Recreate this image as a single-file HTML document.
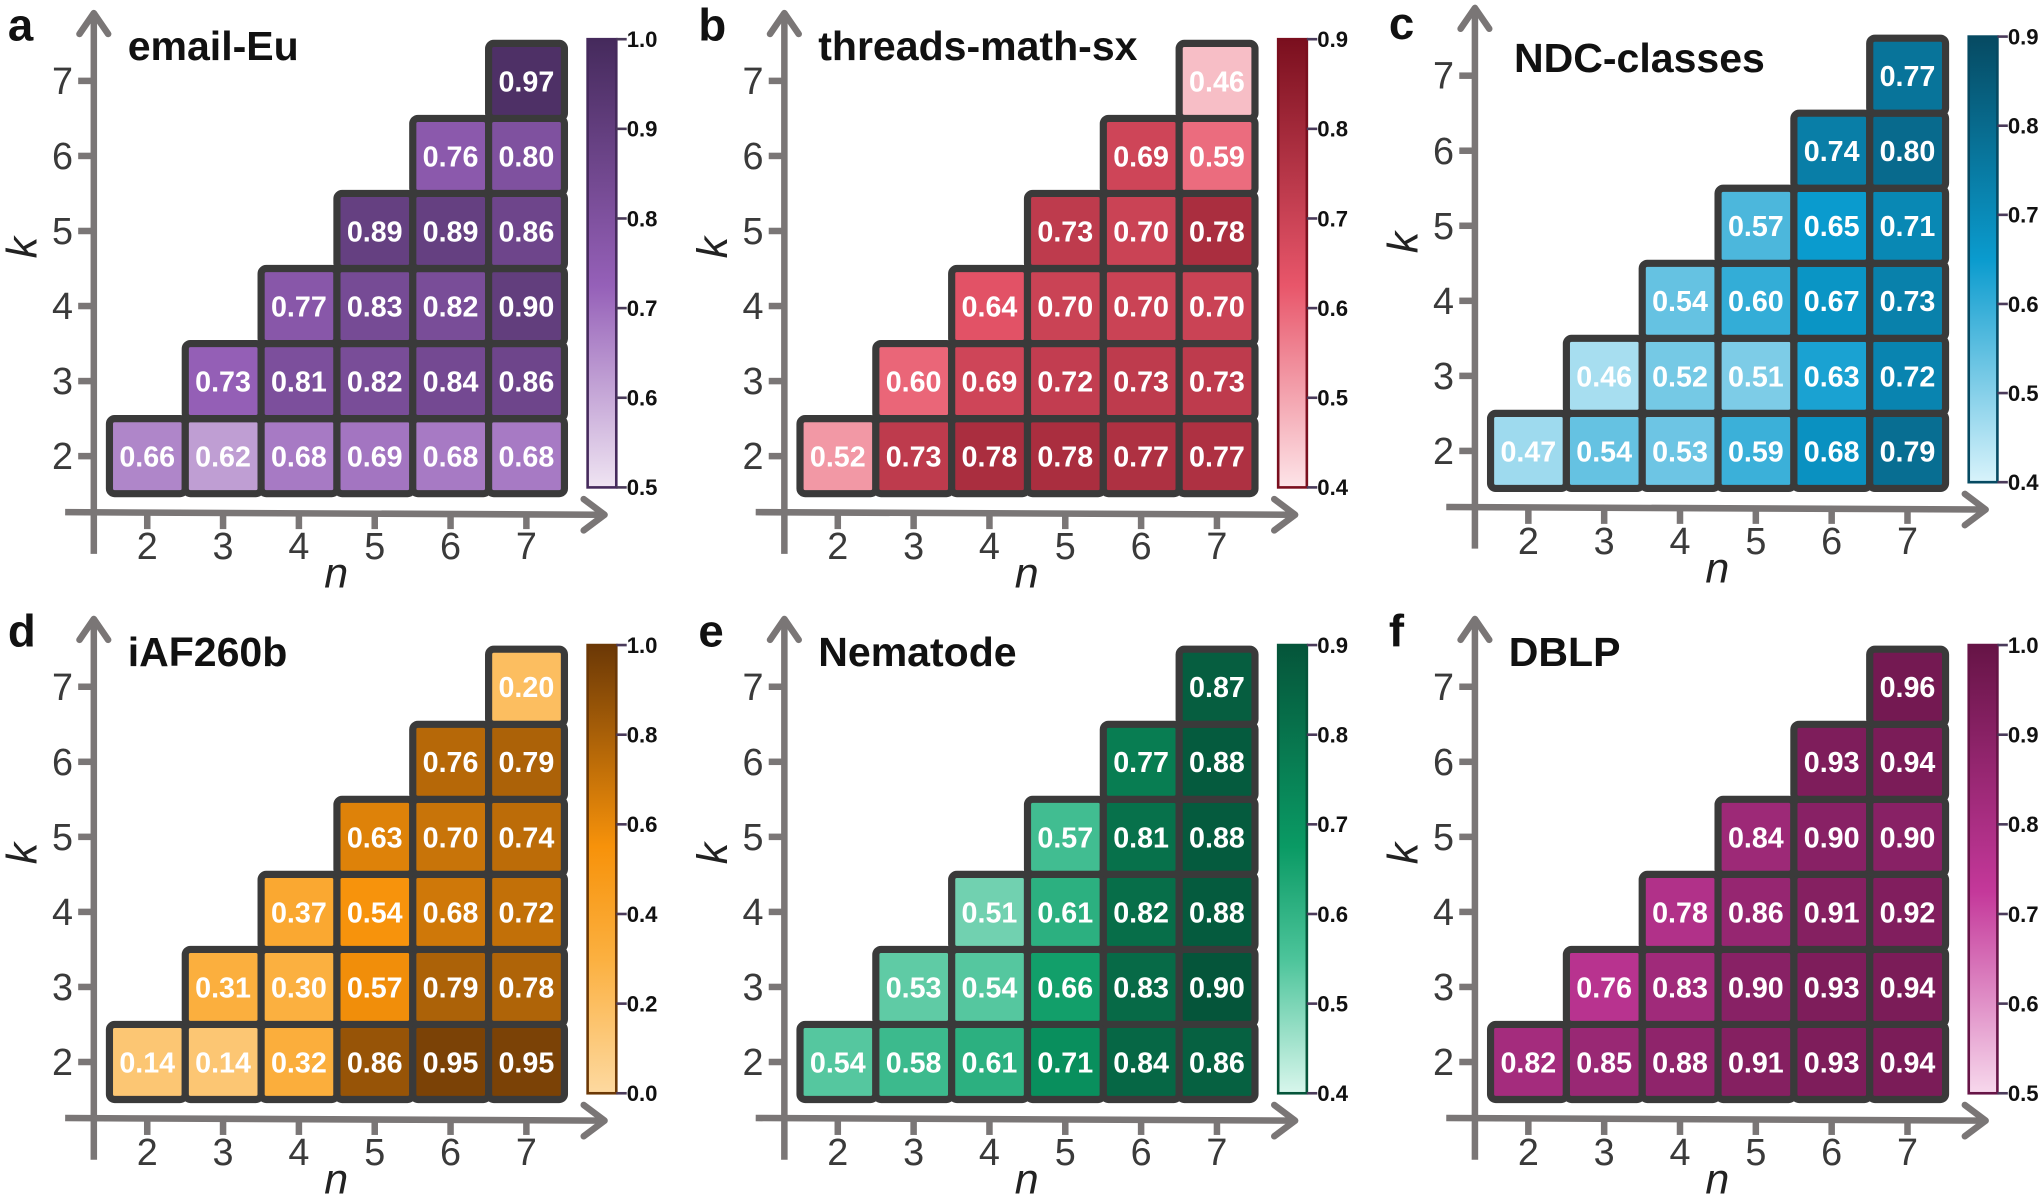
<!DOCTYPE html>
<html><head><meta charset="utf-8"><style>html,body{margin:0;padding:0;background:#fff}svg{display:block}</style></head>
<body>
<svg id="s" width="2043" height="1195" viewBox="0 0 1568 917" xmlns="http://www.w3.org/2000/svg" font-family="Liberation Sans, Arial, sans-serif"></svg>
<script>
const S=document.getElementById('s');
function hex(h){return [parseInt(h.slice(1,3),16),parseInt(h.slice(3,5),16),parseInt(h.slice(5,7),16)];}
function interp(stops,t){t=Math.max(0,Math.min(1,t));for(let i=0;i<stops.length-1;i++){const a=stops[i],b=stops[i+1];if(t<=b[0]){const u=(t-a[0])/(b[0]-a[0]);const ca=hex(a[1]),cb=hex(b[1]);return 'rgb('+ca.map((v,j)=>Math.round(v+(cb[j]-v)*u)).join(',')+')';}}return stops[stops.length-1][1];}
const panels=[
{L:'a',T:'email-Eu',ox:0,oy:0,min:.5,max:1,ticks:['1.0','0.9','0.8','0.7','0.6','0.5'],
 c:[[0,'#efe4f2'],[0.45,'#9560b8'],[1,'#452a5c']],
 v:[[.66,.62,.68,.69,.68,.68],[.73,.81,.82,.84,.86],[.77,.83,.82,.90],[.89,.89,.86],[.76,.80],[.97]]},
{L:'b',T:'threads-math-sx',ox:530,oy:0,min:.4,max:.9,ticks:['0.9','0.8','0.7','0.6','0.5','0.4'],
 c:[[0,'#fde4e8'],[0.45,'#e8566a'],[1,'#7a0f1e']],
 v:[[.52,.73,.78,.78,.77,.77],[.60,.69,.72,.73,.73],[.64,.70,.70,.70],[.73,.70,.78],[.69,.59],[.46]]},
{L:'c',T:'NDC-classes',ox:1060,oy:-4,min:.4,max:.9,ticks:['0.9','0.8','0.7','0.6','0.5','0.4'],
 c:[[0,'#d8f3fb'],[0.5,'#0a9bce'],[1,'#064a62']],
 v:[[.47,.54,.53,.59,.68,.79],[.46,.52,.51,.63,.72],[.54,.60,.67,.73],[.57,.65,.71],[.74,.80],[.77]]},
{L:'d',T:'iAF260b',ox:0,oy:465,min:0,max:1,ticks:['1.0','0.8','0.6','0.4','0.2','0.0'],
 c:[[0,'#fdd9a0'],[0.3,'#fbb040'],[0.55,'#f7920a'],[1,'#6b3806']],
 v:[[.14,.14,.32,.86,.95,.95],[.31,.30,.57,.79,.78],[.37,.54,.68,.72],[.63,.70,.74],[.76,.79],[.20]]},
{L:'e',T:'Nematode',ox:530,oy:465,min:.4,max:.9,ticks:['0.9','0.8','0.7','0.6','0.5','0.4'],
 c:[[0,'#d8f6ec'],[0.3,'#4cc49a'],[0.55,'#0a9a64'],[1,'#05553a']],
 v:[[.54,.58,.61,.71,.84,.86],[.53,.54,.66,.83,.90],[.51,.61,.82,.88],[.57,.81,.88],[.77,.88],[.87]]},
{L:'f',T:'DBLP',ox:1060,oy:465,min:.5,max:1,ticks:['1.0','0.9','0.8','0.7','0.6','0.5'],
 c:[[0,'#f7d8ec'],[0.45,'#c4389a'],[1,'#661446']],
 v:[[.82,.85,.88,.91,.93,.94],[.76,.83,.90,.93,.94],[.78,.86,.91,.92],[.84,.90,.90],[.93,.94],[.96]]}
];
let h='<defs>';
panels.forEach((p,i)=>{h+=`<linearGradient id="g${i}" x1="0" y1="1" x2="0" y2="0">`+p.c.map(s=>`<stop offset="${s[0]}" stop-color="${s[1]}"/>`).join('')+'</linearGradient>';});
h+='</defs>';
const G='#7a7676';
panels.forEach((p,i)=>{
 const ox=p.ox, oy=p.oy;
 h+=`<g transform="translate(${ox},${oy})">`;
 h+=`<line x1="72" y1="12" x2="72" y2="425" stroke="${G}" stroke-width="5"/>`;
 h+=`<polyline points="61,26 72,10 83,26" fill="none" stroke="${G}" stroke-width="5" stroke-linecap="round" stroke-linejoin="round"/>`;
 h+=`<line x1="50" y1="393" x2="462" y2="395" stroke="${G}" stroke-width="5"/>`;
 h+=`<polyline points="448,383 464,395 448,407" fill="none" stroke="${G}" stroke-width="5" stroke-linecap="round" stroke-linejoin="round"/>`;
 for(let k=2;k<=7;k++){const y=350-57.6*(k-2);
  h+=`<line x1="60" y1="${y}" x2="72" y2="${y}" stroke="${G}" stroke-width="5"/>`;
  h+=`<text x="56" y="${y+10}" text-anchor="end" font-size="29" fill="#3a3a3a">${k}</text>`;}
 for(let n=2;n<=7;n++){const x=113+58.2*(n-2);
  h+=`<line x1="${x}" y1="394" x2="${x}" y2="406" stroke="${G}" stroke-width="5"/>`;
  h+=`<text x="${x}" y="429" text-anchor="middle" font-size="29" fill="#3a3a3a">${n}</text>`;}
 h+=`<text x="258" y="451" text-anchor="middle" font-size="33" font-style="italic" fill="#222">n</text>`;
 h+=`<text transform="translate(28,190) rotate(-90)" text-anchor="middle" font-size="33" font-style="italic" fill="#222">k</text>`;
 h+=`<text x="6" y="${p.L=='c'?34:31}" font-size="35" font-weight="bold" fill="#111">${p.L}</text>`;
 h+=`<text x="${p.L=='c'?102:98}" y="${p.L=='c'?59:46}" font-size="31.5" font-weight="bold" fill="#111">${p.T}</text>`;
 p.v.forEach((row,r)=>{const k=r+2;row.forEach((val,j)=>{const n=k+j;const x=113+58.2*(n-2),y=350-57.6*(k-2);
  const t=(val-p.min)/(p.max-p.min);
  h+=`<rect x="${x-29}" y="${y-28.8}" width="58.2" height="57.6" rx="4" fill="${interp(p.c,t)}" stroke="#3a3a3a" stroke-width="5.5"/>`;
 });});
 p.v.forEach((row,r)=>{const k=r+2;row.forEach((val,j)=>{const n=k+j;const x=113+58.2*(n-2),y=350-57.6*(k-2);
  h+=`<text x="${x}" y="${y+8}" text-anchor="middle" font-size="22" font-weight="bold" fill="#fff">${val.toFixed(2)}</text>`;
 });});
 const cy0=(p.L=='c'?32:30), cy1=374;
 h+=`<rect x="451" y="${cy0}" width="22" height="${cy1-cy0}" fill="url(#g${i})" stroke="${p.c[p.c.length-1][1]}" stroke-width="2"/>`;
 p.ticks.forEach((t,m)=>{const y=cy0+(cy1-cy0)*m/5;
  h+=`<line x1="473" y1="${y}" x2="481" y2="${y}" stroke="#4a3a5a" stroke-width="2"/>`;
  h+=`<text x="481" y="${y+6}" font-size="17" font-weight="bold" fill="#111">${t}</text>`;});
 h+='</g>';
});
S.innerHTML=h;
</script>
</body></html>
